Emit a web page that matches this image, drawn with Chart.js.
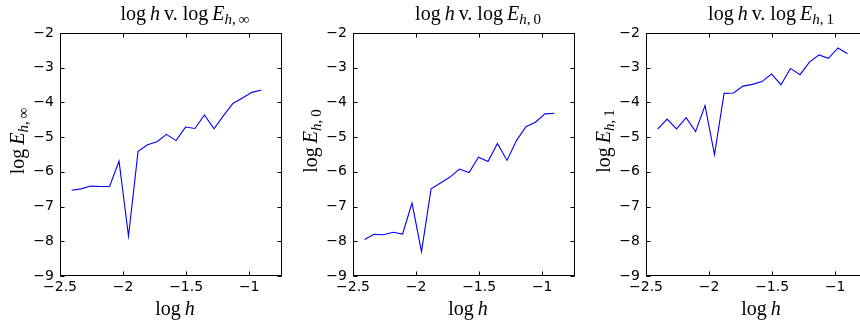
<!DOCTYPE html>
<html>
<head>
<meta charset="utf-8">
<script src="https://cdn.jsdelivr.net/npm/chart.js@4.4.1/dist/chart.umd.min.js"></script>
<style>
  body { margin: 0; background: #fff; overflow: hidden; width: 860px; height: 327px; position: relative; }
  canvas { position: absolute; top: 0; }
</style>
</head>
<body>
<canvas id="chartInf" width="282" height="327" style="left:0px"></canvas>
<canvas id="chartL2" width="282" height="327" style="left:293px"></canvas>
<canvas id="chartH1" width="282" height="327" style="left:586px"></canvas>
<script>
// log h (h = 2^(-k/4), k = 32..12)
var logH = [-2.408, -2.333, -2.258, -2.182, -2.107, -2.032, -1.957, -1.881, -1.806, -1.731,
  -1.656, -1.580, -1.505, -1.430, -1.355, -1.279, -1.204, -1.129, -1.054, -0.978, -0.903];
var logErrInf = [-6.53, -6.49, -6.41, -6.42, -6.42, -5.69, -7.85, -5.41, -5.22, -5.13,
  -4.92, -5.10, -4.71, -4.75, -4.36, -4.76, -4.38, -4.03, -3.87, -3.71, -3.64];
var logErr0 = [-7.95, -7.80, -7.81, -7.74, -7.79, -6.90, -8.30, -6.49, -6.32, -6.15,
  -5.92, -6.02, -5.58, -5.70, -5.18, -5.67, -5.10, -4.70, -4.57, -4.33, -4.31];
var logErr1 = [-4.77, -4.48, -4.76, -4.44, -4.84, -4.09, -5.50, -3.74, -3.73, -3.53,
  -3.48, -3.40, -3.18, -3.49, -3.02, -3.20, -2.84, -2.63, -2.73, -2.43, -2.60];
var xTicks = [-2.5, -2, -1.5, -1];
var yTicks = [-9, -8, -7, -6, -5, -4, -3, -2];

var serif = '"Liberation Serif", "DejaVu Serif", serif';
var tickFont = { family: '"DejaVu Sans", "Liberation Sans", sans-serif', size: 14 };

function minus(v) {
  return String(v).replace('-', '\u2212');
}

// draws a row of text pieces (different fonts / offsets), centred on cx
function drawRuns(ctx, runs, cx, y) {
  var total = 0;
  runs.forEach(function (r) {
    ctx.font = r.f;
    r.w = ctx.measureText(r.t).width;
    total += (r.gap || 0) + r.w;
  });
  var x = cx - total / 2;
  runs.forEach(function (r) {
    x += r.gap || 0;
    ctx.font = r.f;
    ctx.fillText(r.t, x, y + (r.dy || 0));
    x += r.w;
  });
}

function subRuns(sub) {
  var parts = sub.split(',');
  return [
    { t: parts[0], f: 'italic 15px ' + serif, gap: 0, dy: 4 },
    { t: ',', f: '15px ' + serif, gap: 0, dy: 4 },
    { t: parts[1], f: '15px ' + serif, gap: 3, dy: 4 }
  ];
}

var framePlugin = {
  id: 'frame',
  afterDraw: function (chart, args, opts) {
    var ctx = chart.ctx;
    var a = chart.chartArea;
    var xs = chart.scales.x, ys = chart.scales.y;
    ctx.save();
    ctx.strokeStyle = '#000';
    ctx.lineWidth = 1;
    var l = Math.round(a.left) + 0.5, r = Math.round(a.right) - 0.5;
    var t = Math.round(a.top) + 0.5, b = Math.round(a.bottom) - 0.5;
    ctx.strokeRect(l, t, r - l, b - t);
    ctx.beginPath();
    xTicks.forEach(function (v) {
      var px = Math.round(xs.getPixelForValue(v)) + 0.5;
      ctx.moveTo(px, b); ctx.lineTo(px, b - 4);
      ctx.moveTo(px, t); ctx.lineTo(px, t + 4);
    });
    yTicks.forEach(function (v) {
      var py = Math.round(ys.getPixelForValue(v)) + 0.5;
      ctx.moveTo(l, py); ctx.lineTo(l + 4, py);
      ctx.moveTo(r, py); ctx.lineTo(r - 4, py);
    });
    ctx.stroke();

    // title and axis labels
    ctx.fillStyle = '#000';
    ctx.textBaseline = 'alphabetic';
    ctx.textAlign = 'left';
    var up = '20px ' + serif, it = 'italic 20px ' + serif;
    drawRuns(ctx, [
      { t: 'log', f: up },
      { t: 'h', f: it, gap: 4 },
      { t: 'v.', f: up, gap: 4 },
      { t: 'log', f: up, gap: 5 },
      { t: 'E', f: it, gap: 4 }
    ].concat(subRuns(opts.sub)), a.left + 125, 20);

    drawRuns(ctx, [
      { t: 'log', f: up },
      { t: 'h', f: it, gap: 4 }
    ], (a.left + a.right) / 2 + 4, 315);

    ctx.save();
    ctx.translate(a.left - 36, 141);
    ctx.rotate(-Math.PI / 2);
    drawRuns(ctx, [
      { t: 'log', f: up },
      { t: 'E', f: it, gap: 4 }
    ].concat(subRuns(opts.sub)), 0, 0);
    ctx.restore();
    ctx.restore();
  }
};

function makeChart(id, values, sub) {
  var points = logH.map(function (x, i) { return { x: x, y: values[i] }; });
  return new Chart(document.getElementById(id), {
    type: 'line',
    data: {
      datasets: [{
        data: points,
        borderColor: '#0000ff',
        borderWidth: 1.1,
        pointRadius: 0,
        tension: 0,
        fill: false
      }]
    },
    options: {
      responsive: false,
      animation: false,
      events: [],
      layout: { autoPadding: false, padding: { top: 33, right: 0, bottom: 0, left: 0 } },
      plugins: {
        legend: { display: false },
        tooltip: { enabled: false },
        frame: { sub: sub }
      },
      scales: {
        x: {
          type: 'linear',
          min: -2.5,
          max: -0.74,
          afterBuildTicks: function (s) { s.ticks = xTicks.map(function (v) { return { value: v }; }); },
          afterFit: function (s) { s.height = 51; },
          grid: { display: false, drawTicks: false },
          border: { display: false },
          ticks: {
            color: '#000',
            font: tickFont,
            padding: 3,
            maxRotation: 0,
            autoSkip: false,
            callback: function (v) { return minus(v); }
          }
        },
        y: {
          type: 'linear',
          min: -9,
          max: -2,
          afterBuildTicks: function (s) { s.ticks = yTicks.map(function (v) { return { value: v }; }); },
          afterFit: function (s) { s.width = 60; },
          grid: { display: false, drawTicks: false },
          border: { display: false },
          ticks: {
            color: '#000',
            font: tickFont,
            padding: 6,
            autoSkip: false,
            callback: function (v) { return minus(v); }
          }
        }
      }
    },
    plugins: [framePlugin]
  });
}

makeChart('chartInf', logErrInf, 'h,\u221e');
makeChart('chartL2', logErr0, 'h,0');
makeChart('chartH1', logErr1, 'h,1');
</script>
</body>
</html>
